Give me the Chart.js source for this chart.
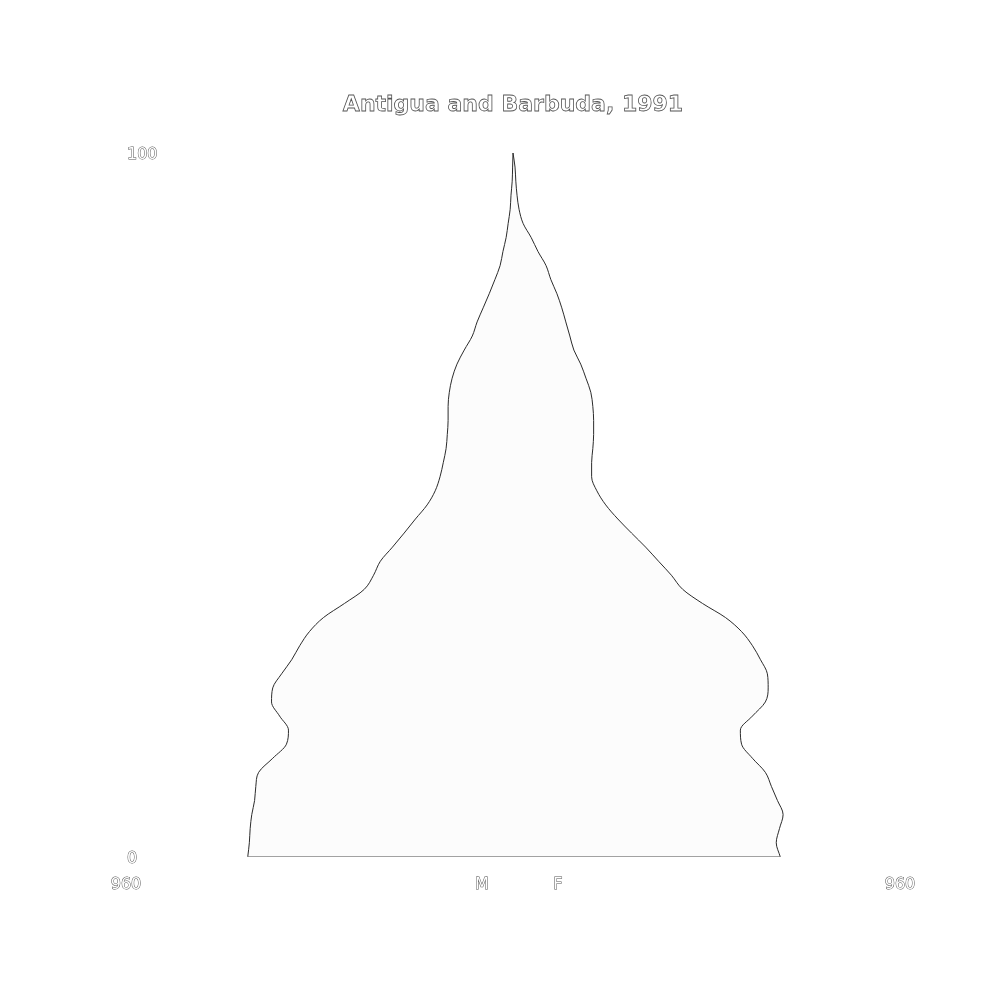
<!DOCTYPE html>
<html>
<head>
<meta charset="utf-8">
<script src="https://cdn.jsdelivr.net/npm/chart.js@4.4.1/dist/chart.umd.min.js"></script>
<style>
  html, body { margin: 0; padding: 0; background: #ffffff; }
  #wrap { width: 1000px; height: 1000px; }
</style>
</head>
<body>
<div id="wrap"><canvas id="pyramid" width="1000" height="1000"></canvas></div>
<script>
const chartTitle = "Antigua and Barbuda, 1991";

// age (years) and population per single year of age
const ages = [0, 2, 4, 6, 8, 10, 12, 14, 16, 18, 20, 22, 24, 26, 28, 30, 32, 34, 36, 38, 40,
  42, 44, 46, 48, 50, 52, 54, 56, 58, 60, 62, 64, 66, 68, 70, 72, 74, 76, 78, 80,
  82, 84, 86, 88, 90, 92, 94, 96, 98, 100];
const males = [658, 654, 652, 648, 641, 638, 631, 596, 562, 557, 579, 599, 596, 574, 549, 529, 505, 470, 418, 369, 346,
  329, 299, 270, 242, 213, 193, 181, 173, 166, 163, 161, 161, 158, 151, 139, 121, 101, 89, 74, 59,
  45, 32, 25, 17, 12, 7, 5, 2, 1, 0];
const females = [663, 653, 661, 670, 656, 641, 626, 594, 567, 564, 594, 626, 633, 631, 614, 594, 567, 527, 470, 421, 393,
  361, 329, 294, 260, 230, 208, 195, 195, 198, 200, 200, 198, 193, 181, 168, 151, 141, 131, 121, 109,
  94, 82, 62, 45, 25, 15, 10, 7, 5, 0];

const xTickValues = [-960, -77, 111, 960];
const xTickLabels = ["960", "M", "F", "960"];
const yTickValues = [0, 100];
const yTickLabels = ["0", "100"];

const ink = "#2b2b2b";
const textInk = "#555555";
const tickFont = { family: "DejaVu Sans", size: 16 };

const malePoints = ages.map((a, i) => ({ x: -males[i], y: a }));
const femalePoints = ages.map((a, i) => ({ x: females[i], y: a }));
const basePoints = [{ x: -males[0], y: 0 }, { x: females[0], y: 0 }];

// title drawn as white letters with a thin outline
const outlinedTitle = {
  id: "outlinedTitle",
  afterDraw(chart) {
    const ctx = chart.ctx;
    const area = chart.chartArea;
    const cx = chart.scales.x.getPixelForValue(0);
    ctx.save();
    ctx.font = "bold 22px 'DejaVu Sans'";
    ctx.textAlign = "center";
    ctx.textBaseline = "middle";
    ctx.fillStyle = "#ffffff";
    ctx.strokeStyle = textInk;
    ctx.lineWidth = 0.8;
    ctx.fillText(chartTitle, cx, area.top - 48);
    ctx.strokeText(chartTitle, cx, area.top - 48);
    ctx.restore();
  }
};

new Chart(document.getElementById("pyramid"), {
  type: "line",
  data: {
    datasets: [
      {
        label: "M",
        data: malePoints,
        borderColor: ink,
        borderWidth: 1,
        backgroundColor: "#fcfcfc",
        fill: "origin",
        pointRadius: 0,
        cubicInterpolationMode: "monotone"
      },
      {
        label: "F",
        data: femalePoints,
        borderColor: ink,
        borderWidth: 1,
        backgroundColor: "#fcfcfc",
        fill: "origin",
        pointRadius: 0,
        cubicInterpolationMode: "monotone"
      },
      {
        label: "base",
        data: basePoints,
        borderColor: ink,
        borderWidth: 1.5,
        fill: false,
        pointRadius: 0
      }
    ]
  },
  options: {
    indexAxis: "y",
    responsive: false,
    animation: false,
    devicePixelRatio: 1,
    layout: { padding: { left: 124, right: 100, top: 153, bottom: 88 } },
    plugins: {
      legend: { display: false },
      title: { display: false },
      tooltip: { enabled: false }
    },
    scales: {
      x: {
        type: "linear",
        min: -960,
        max: 960,
        grid: { display: false, drawTicks: false },
        border: { display: false },
        afterBuildTicks: (axis) => { axis.ticks = xTickValues.map(v => ({ value: v })); },
        ticks: {
          autoSkip: false,
          maxRotation: 0,
          padding: 18,
          font: tickFont,
          color: "#ffffff",
          textStrokeColor: textInk,
          textStrokeWidth: 1,
          callback: (v) => xTickLabels[xTickValues.indexOf(v)]
        }
      },
      y: {
        type: "linear",
        min: 0,
        max: 100,
        grid: { display: false, drawTicks: false },
        border: { display: false },
        afterBuildTicks: (axis) => { axis.ticks = yTickValues.map(v => ({ value: v })); },
        ticks: {
          mirror: true,
          padding: 1,
          labelOffset: 2,
          font: tickFont,
          color: "#ffffff",
          textStrokeColor: textInk,
          textStrokeWidth: 1,
          callback: (v) => yTickLabels[yTickValues.indexOf(v)]
        }
      }
    }
  },
  plugins: [outlinedTitle]
});
</script>
</body>
</html>
